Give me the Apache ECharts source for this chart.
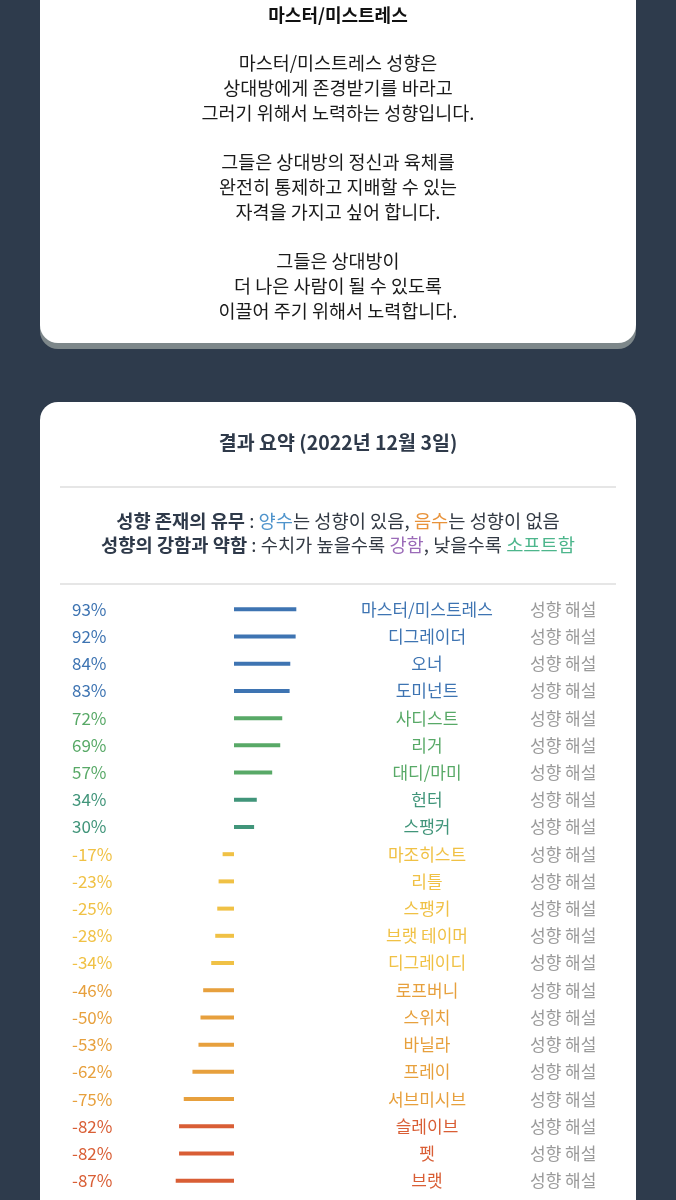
<!DOCTYPE html>
<html>
<head>
<meta charset="utf-8">
<title>결과 요약</title>
<script src="https://cdn.jsdelivr.net/npm/echarts@6/dist/echarts.min.js"></script>
<style>
  html, body { margin: 0; padding: 0; background: #2e3b4c; }
  #main { width: 676px; height: 1200px; }
</style>
</head>
<body>
<div id="main"></div>
<script>
// 성향 이름 (위에서 아래 순서)
var names = ['마스터/미스트레스', '디그레이더', '오너', '도미넌트', '사디스트', '리거', '대디/마미', '헌터', '스팽커',
  '마조히스트', '리틀', '스팽키', '브랫 테이머', '디그레이디', '로프버니', '스위치', '바닐라', '프레이', '서브미시브',
  '슬레이브', '펫', '브랫'];
// 성향 수치 (%)
var values = [93, 92, 84, 83, 72, 69, 57, 34, 30,
  -17, -23, -25, -28, -34, -46, -50, -53, -62, -75, -82, -82, -87];
var linkText = '성향 해설';

// 위쪽 카드 설명
var descTitle = '마스터/미스트레스';
var descLines = [
  '마스터/미스트레스 성향은',
  '상대방에게 존경받기를 바라고',
  '그러기 위해서 노력하는 성향입니다.',
  '',
  '그들은 상대방의 정신과 육체를',
  '완전히 통제하고 지배할 수 있는',
  '자격을 가지고 싶어 합니다.',
  '',
  '그들은 상대방이',
  '더 나은 사람이 될 수 있도록',
  '이끌어 주기 위해서 노력합니다.'
];
var summaryTitle = '결과 요약 (2022년 12월 3일)';
var legendLine1 = '{b|성향 존재의 유무} : {pos|양수}는 성향이 있음, {neg|음수}는 성향이 없음';
var legendLine2 = '{b|성향의 강함과 약함} : 수치가 높을수록 {hard|강함}, 낮을수록 {soft|소프트함}';

var FONT = "'Noto Sans CJK KR', 'Noto Sans', sans-serif";

// 수치 구간별 색
function tierColor(v) {
  if (v >= 80) return '#3e74b2';
  if (v >= 50) return '#58a967';
  if (v > 0) return '#41957a';
  if (v > -40) return '#f0c145';
  if (v > -80) return '#e7a03d';
  return '#d95e35';
}

var chart = echarts.init(document.getElementById('main'));

var option = {
  backgroundColor: '#2e3b4c',
  animation: false,
  graphic: {
    elements: [
      // 위쪽 카드 + 그림자
      { type: 'rect', z: 1, shape: { x: 40, y: -40, width: 596, height: 389, r: 18 }, style: { fill: '#7d878a' } },
      { type: 'rect', z: 1, shape: { x: 40, y: -40, width: 596, height: 383, r: 18 }, style: { fill: '#ffffff' } },
      { type: 'text', z: 2, x: 338, y: 15,
        style: { text: descTitle, textAlign: 'center', textVerticalAlign: 'middle', font: 'bold 18px ' + FONT, fill: '#111111' } },
      { type: 'text', z: 2, x: 338, y: 50.6,
        style: { text: descLines.join('\n'), textAlign: 'center', textVerticalAlign: 'top', font: '18.5px ' + FONT,
          lineHeight: 24.75, fill: '#1a1a1a' } },
      // 아래쪽 카드
      { type: 'rect', z: 1, shape: { x: 40, y: 402, width: 596, height: 840, r: 18 }, style: { fill: '#ffffff' } },
      { type: 'text', z: 2, x: 338, y: 443,
        style: { text: summaryTitle, textAlign: 'center', textVerticalAlign: 'middle', font: 'bold 19.5px ' + FONT, fill: '#2f3a4a' } },
      { type: 'line', z: 2, shape: { x1: 60, y1: 487, x2: 616, y2: 487 }, style: { stroke: '#e6e6e6', lineWidth: 2 } },
      { type: 'line', z: 2, shape: { x1: 60, y1: 584, x2: 616, y2: 584 }, style: { stroke: '#e6e6e6', lineWidth: 2 } },
      { type: 'text', z: 2, x: 338, y: 521,
        style: { text: legendLine1, textAlign: 'center', textVerticalAlign: 'middle', font: '18.7px ' + FONT, fill: '#333a44',
          rich: {
            b: { fontWeight: 'bold', fontSize: 18.7, fontFamily: FONT, fill: '#2f3a4a' },
            pos: { fontSize: 18.7, fontFamily: FONT, fill: '#4f94cc' },
            neg: { fontSize: 18.7, fontFamily: FONT, fill: '#e8923a' }
          } } },
      { type: 'text', z: 2, x: 338, y: 545,
        style: { text: legendLine2, textAlign: 'center', textVerticalAlign: 'middle', font: '18.7px ' + FONT, fill: '#333a44',
          rich: {
            b: { fontWeight: 'bold', fontSize: 18.7, fontFamily: FONT, fill: '#2f3a4a' },
            hard: { fontSize: 18.7, fontFamily: FONT, fill: '#9b6bb8' },
            soft: { fontSize: 18.7, fontFamily: FONT, fill: '#4db68c' }
          } } }
    ]
  },
  grid: {
    left: 167,
    width: 134,
    top: 595.7,
    height: 598.6
  },
  xAxis: {
    type: 'value',
    min: -100,
    max: 100,
    show: false
  },
  yAxis: [
    { // 왼쪽: 수치
      type: 'category', data: names, inverse: true, position: 'left', z: 10,
      axisLine: { show: false }, axisTick: { show: false },
      axisLabel: {
        margin: 95, align: 'left', fontSize: 17, fontFamily: FONT,
        formatter: function (v, i) { return values[i] + '%'; },
        color: function (v, i) { return tierColor(values[i]); }
      }
    },
    { // 오른쪽: 성향 이름
      type: 'category', data: names, inverse: true, position: 'right', z: 10,
      axisLine: { show: false }, axisTick: { show: false },
      axisLabel: {
        margin: 126, align: 'center', fontSize: 17, fontFamily: FONT,
        color: function (v, i) { return tierColor(values[i]); }
      }
    },
    { // 오른쪽 끝: 해설 링크
      type: 'category', data: names, inverse: true, position: 'right', z: 10,
      axisLine: { show: false }, axisTick: { show: false },
      axisLabel: {
        margin: 229, align: 'left', fontSize: 17, fontFamily: FONT, color: '#9a9a9a',
        formatter: function () { return linkText; }
      }
    }
  ],
  series: [{
    type: 'bar',
    yAxisIndex: 0,
    z: 10,
    barWidth: 4,
    silent: true,
    data: values,
    itemStyle: {
      color: function (p) { return tierColor(p.value); }
    }
  }]
};

chart.setOption(option);
</script>
</body>
</html>
